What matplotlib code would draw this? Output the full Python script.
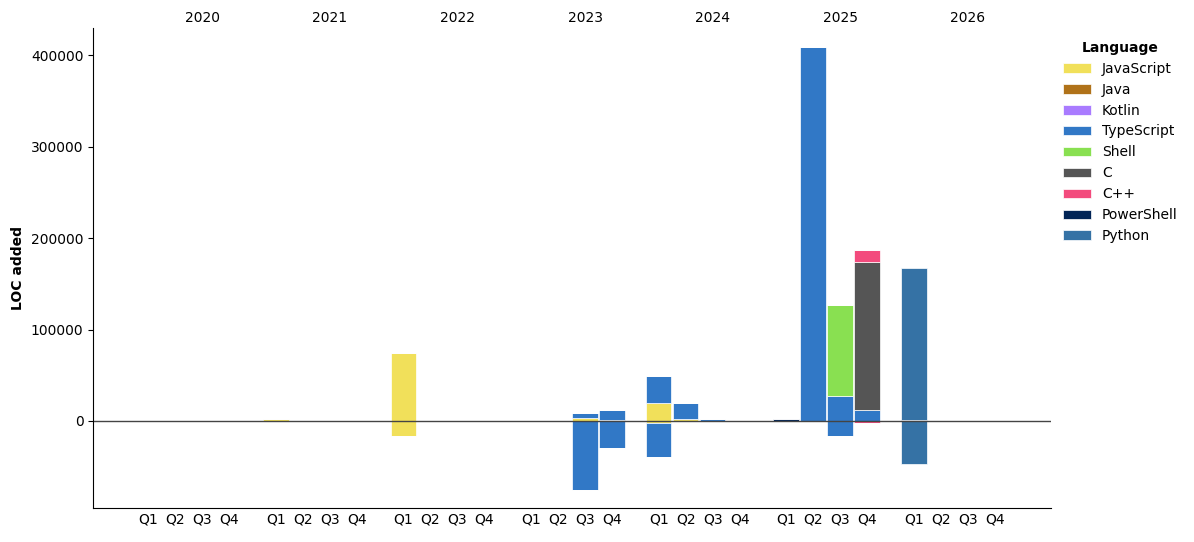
import numpy as np
import matplotlib
matplotlib.use("Agg")
import matplotlib.pyplot as plt

years = [2020, 2021, 2022, 2023, 2024, 2025, 2026]
quarters = ["Q1", "Q2", "Q3", "Q4"]
languages = ["JavaScript", "Java", "Kotlin", "TypeScript", "Shell", "C", "C++", "PowerShell", "Python"]
colors = ["#f1e05a", "#b07219", "#A97BFF", "#3178c6", "#89e051", "#555555", "#f34b7d", "#012456", "#3572A5"]

# LOC added per quarter (28 quarters, 2020Q1..2026Q4)
added = {
    "JavaScript": [0, 0, 0, 0,  2000, 0, 0, 0,  74000, 0, 0, 0,  0, 0, 3000, 1500,
                   19500, 1800, 0, 0,  0, 0, 0, 0,  0, 0, 0, 0],
    "Java":       [0] * 28,
    "Kotlin":     [0] * 28,
    "TypeScript": [0, 0, 0, 0,  0, 0, 0, 0,  0, 0, 0, 0,  0, 0, 5500, 10500,
                   29500, 17800, 2200, 0,  0, 409000, 27300, 12000,  0, 0, 0, 0],
    "Shell":      [0] * 20 + [0, 0, 99500, 0] + [0, 0, 0, 0],
    "C":          [0] * 20 + [0, 0, 0, 162000] + [1500, 0, 0, 0],
    "C++":        [0] * 20 + [0, 0, 0, 13000] + [0, 0, 0, 0],
    "PowerShell": [0] * 20 + [2200, 0, 0, 0] + [0, 0, 0, 0],
    "Python":     [0] * 24 + [165500, 0, 0, 0],
}

# LOC removed per quarter (negative)
removed = {
    "JavaScript": [0] * 8 + [-16400, 0, 0, 0] + [0] * 4 + [-2000, 0, 0, 0] + [0] * 8,
    "Java":       [0] * 28,
    "Kotlin":     [0] * 28,
    "TypeScript": [0] * 12 + [0, 0, -75400, -29500] + [-37000, 0, 0, 0] + [0, 0, -16400, 0] + [0] * 4,
    "Shell":      [0] * 28,
    "C":          [0] * 28,
    "C++":        [0] * 20 + [0, 0, 0, -2000] + [0] * 4,
    "PowerShell": [0] * 28,
    "Python":     [0] * 24 + [-47000, 0, 0, 0],
}

year_step = 4.73
x = np.array([yi * year_step + q for yi in range(len(years)) for q in range(4)])

fig = plt.figure(figsize=(11.94, 5.42), dpi=100)
ax = fig.add_axes([0.078, 0.063, 0.802, 0.885])

pos_bottom = np.zeros(len(x))
neg_bottom = np.zeros(len(x))
for lang, col in zip(languages, colors):
    pv = np.array(added[lang], dtype=float)
    nv = np.array(removed[lang], dtype=float)
    ax.bar(x, pv, bottom=pos_bottom, width=0.95, color=col, edgecolor="white",
           linewidth=0.5, label=lang)
    ax.bar(x, nv, bottom=neg_bottom, width=0.95, color=col, edgecolor="white",
           linewidth=0.5)
    pos_bottom += pv
    neg_bottom += nv

ax.axhline(0, color="#444444", linewidth=1)

ax.set_xticks(x)
ax.set_xticklabels(quarters * len(years))
ax.tick_params(axis="x", length=0, labelsize=10)
ax.set_xlim(-2.04, x[-1] + 2.07)
ax.set_ylim(-95000, 429500)
ax.set_ylabel("LOC added", fontweight="bold", fontsize=10)

ax.spines["top"].set_visible(False)
ax.spines["right"].set_visible(False)

# year labels on top
secax = ax.secondary_xaxis("top")
secax.set_xticks([yi * year_step + 2 for yi in range(len(years))])
secax.set_xticklabels([str(y) for y in years])
secax.tick_params(length=0, labelsize=10, pad=2)
secax.spines["top"].set_visible(False)

leg = ax.legend(title="Language", loc="upper left", bbox_to_anchor=(1.0, 1.0),
                frameon=False, fontsize=10)
leg.get_title().set_fontweight("bold")

fig.savefig("out.png", dpi=100)
